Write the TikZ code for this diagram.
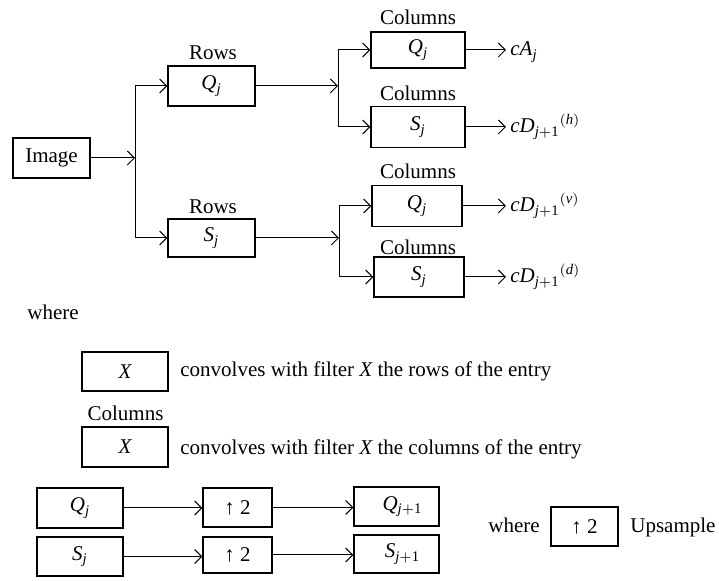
\documentclass[tikz,border=0pt]{standalone}
\usepackage{fontspec}
\setmainfont{Liberation Serif}
\usetikzlibrary{arrows.meta}
\newcommand\myjp{\mathit{j}\mathrm{+1}}
\begin{document}
\begin{tikzpicture}[x=0.5pt,y=-0.5pt,
  font=\fontsize{10.5}{12}\selectfont,
  box/.style={draw, line width=0.6pt, inner sep=0pt},
  conn/.style={line width=0.5pt, -{Straight Barb[length=3.5pt,width=7pt]}},
  lbl/.style={inner sep=0pt}]
\useasboundingbox (0,0) rectangle (719,581);
% ---------- top diagram ----------
\node[box,minimum width=38.5pt,minimum height=20pt] (img) at (51.5,158) {Image};
\node[box,minimum width=43.5pt,minimum height=20pt] (rq) at (211.5,86) {$\mathit{Q_j}$};
\node[box,minimum width=43.5pt,minimum height=19pt] (rs) at (211.5,238) {$\mathit{S_j}$};
\node[lbl] (rql) at (213,53) {Rows};
\node[lbl] (rsl) at (213,207) {Rows};
\node[box,minimum width=47pt,minimum height=18pt] (cq1) at (418,50) {$\mathit{Q_j}$};
\node[box,minimum width=47pt,minimum height=20.5pt] (cs1) at (418,127) {$\mathit{S_j}$};
\node[box,minimum width=45pt,minimum height=20.5pt] (cq2) at (417,206) {$\mathit{Q_j}$};
\node[box,minimum width=45pt,minimum height=20pt] (cs2) at (419,277) {$\mathit{S_j}$};
\node[lbl] (cl1) at (418,17) {Columns};
\node[lbl] (cl2) at (418,93) {Columns};
\node[lbl] (cl3) at (418,171) {Columns};
\node[lbl] (cl4) at (418,247) {Columns};
\node[lbl,anchor=base west] (o1) at (510,56) {$\mathit{cA_j}$};
\node[lbl,anchor=base west] (o2) at (510,133) {${\mathit{cD}_{\myjp}}^{(\mathit{h})}$};
\node[lbl,anchor=base west] (o3) at (510,212) {${\mathit{cD}_{\myjp}}^{(\mathit{v})}$};
\node[lbl,anchor=base west] (o4) at (510,283) {${\mathit{cD}_{\myjp}}^{(\mathit{d})}$};
\coordinate (s1) at (135,158);
\coordinate (s2) at (338,86);
\coordinate (s3) at (339,238);
\draw[conn] (img) -- (s1);
\draw[conn] (s1) |- (rq);
\draw[conn] (s1) |- (rs);
\draw[conn] (rq) -- (s2);
\draw[conn] (s2) |- (cq1);
\draw[conn] (s2) |- (cs1);
\draw[conn] (rs) -- (s3);
\draw[conn] (s3) |- (cq2);
\draw[conn] (s3) |- (cs2);
\draw[conn,shorten >=2pt] (cq1.east) -- (cq1.east -| o1.west);
\draw[conn,shorten >=2pt] (cs1.east) -- (cs1.east -| o2.west);
\draw[conn,shorten >=2pt] (cq2.east) -- (cq2.east -| o3.west);
\draw[conn,shorten >=2pt] (cs2.east) -- (cs2.east -| o4.west);
% ---------- legend ----------
\node[lbl,anchor=base west] (w1) at (27,320) {where};
\node[box,minimum width=43pt,minimum height=19.5pt] (lx1) at (125,371.5) {$\mathit{X}$};
\node[lbl,anchor=base west] (t1) at (180,377) {convolves with filter $\mathit{X}$ the rows of the entry};
\node[lbl] (cl5) at (125.5,413) {Columns};
\node[box,minimum width=43pt,minimum height=20pt] (lx2) at (125,447) {$\mathit{X}$};
\node[lbl,anchor=base west] (t2) at (180,455) {convolves with filter $\mathit{X}$ the columns of the entry};
% ---------- upsampling ----------
\node[box,minimum width=43pt,minimum height=20pt] (bq) at (80,508) {$\mathit{Q_j}$};
\node[box,minimum width=34.5pt,minimum height=19.5pt] (bu1) at (237.5,507.5) {↑ 2};
\node[box,minimum width=42.5pt,minimum height=19.5pt] (bq1) at (396.5,506.5) {\hspace{6pt}$\mathit{Q}_{\myjp}$};
\node[box,minimum width=43pt,minimum height=19.5pt] (bs) at (80,556.5) {$\mathit{S_j}$};
\node[box,minimum width=34.5pt,minimum height=18pt] (bu2) at (237.5,555) {↑ 2};
\node[box,minimum width=42.5pt,minimum height=19pt] (bs1) at (396.5,554) {\hspace{6pt}$\mathit{S}_{\myjp}$};
\draw[conn] (bq.east) -- (bq.east -| bu1.west);
\draw[conn] (bu1.east) -- (bu1.east -| bq1.west);
\draw[conn] (bs.east) -- (bs.east -| bu2.west);
\draw[conn] (bu2.east) -- (bu2.east -| bs1.west);
\node[lbl,anchor=base west] (w2) at (488,533) {where};
\node[box,minimum width=33.5pt,minimum height=19.5pt] (bu3) at (584.5,526.5) {↑ 2};
\node[lbl,anchor=base west] (up) at (630,533) {Upsample};
\end{tikzpicture}
\end{document}
